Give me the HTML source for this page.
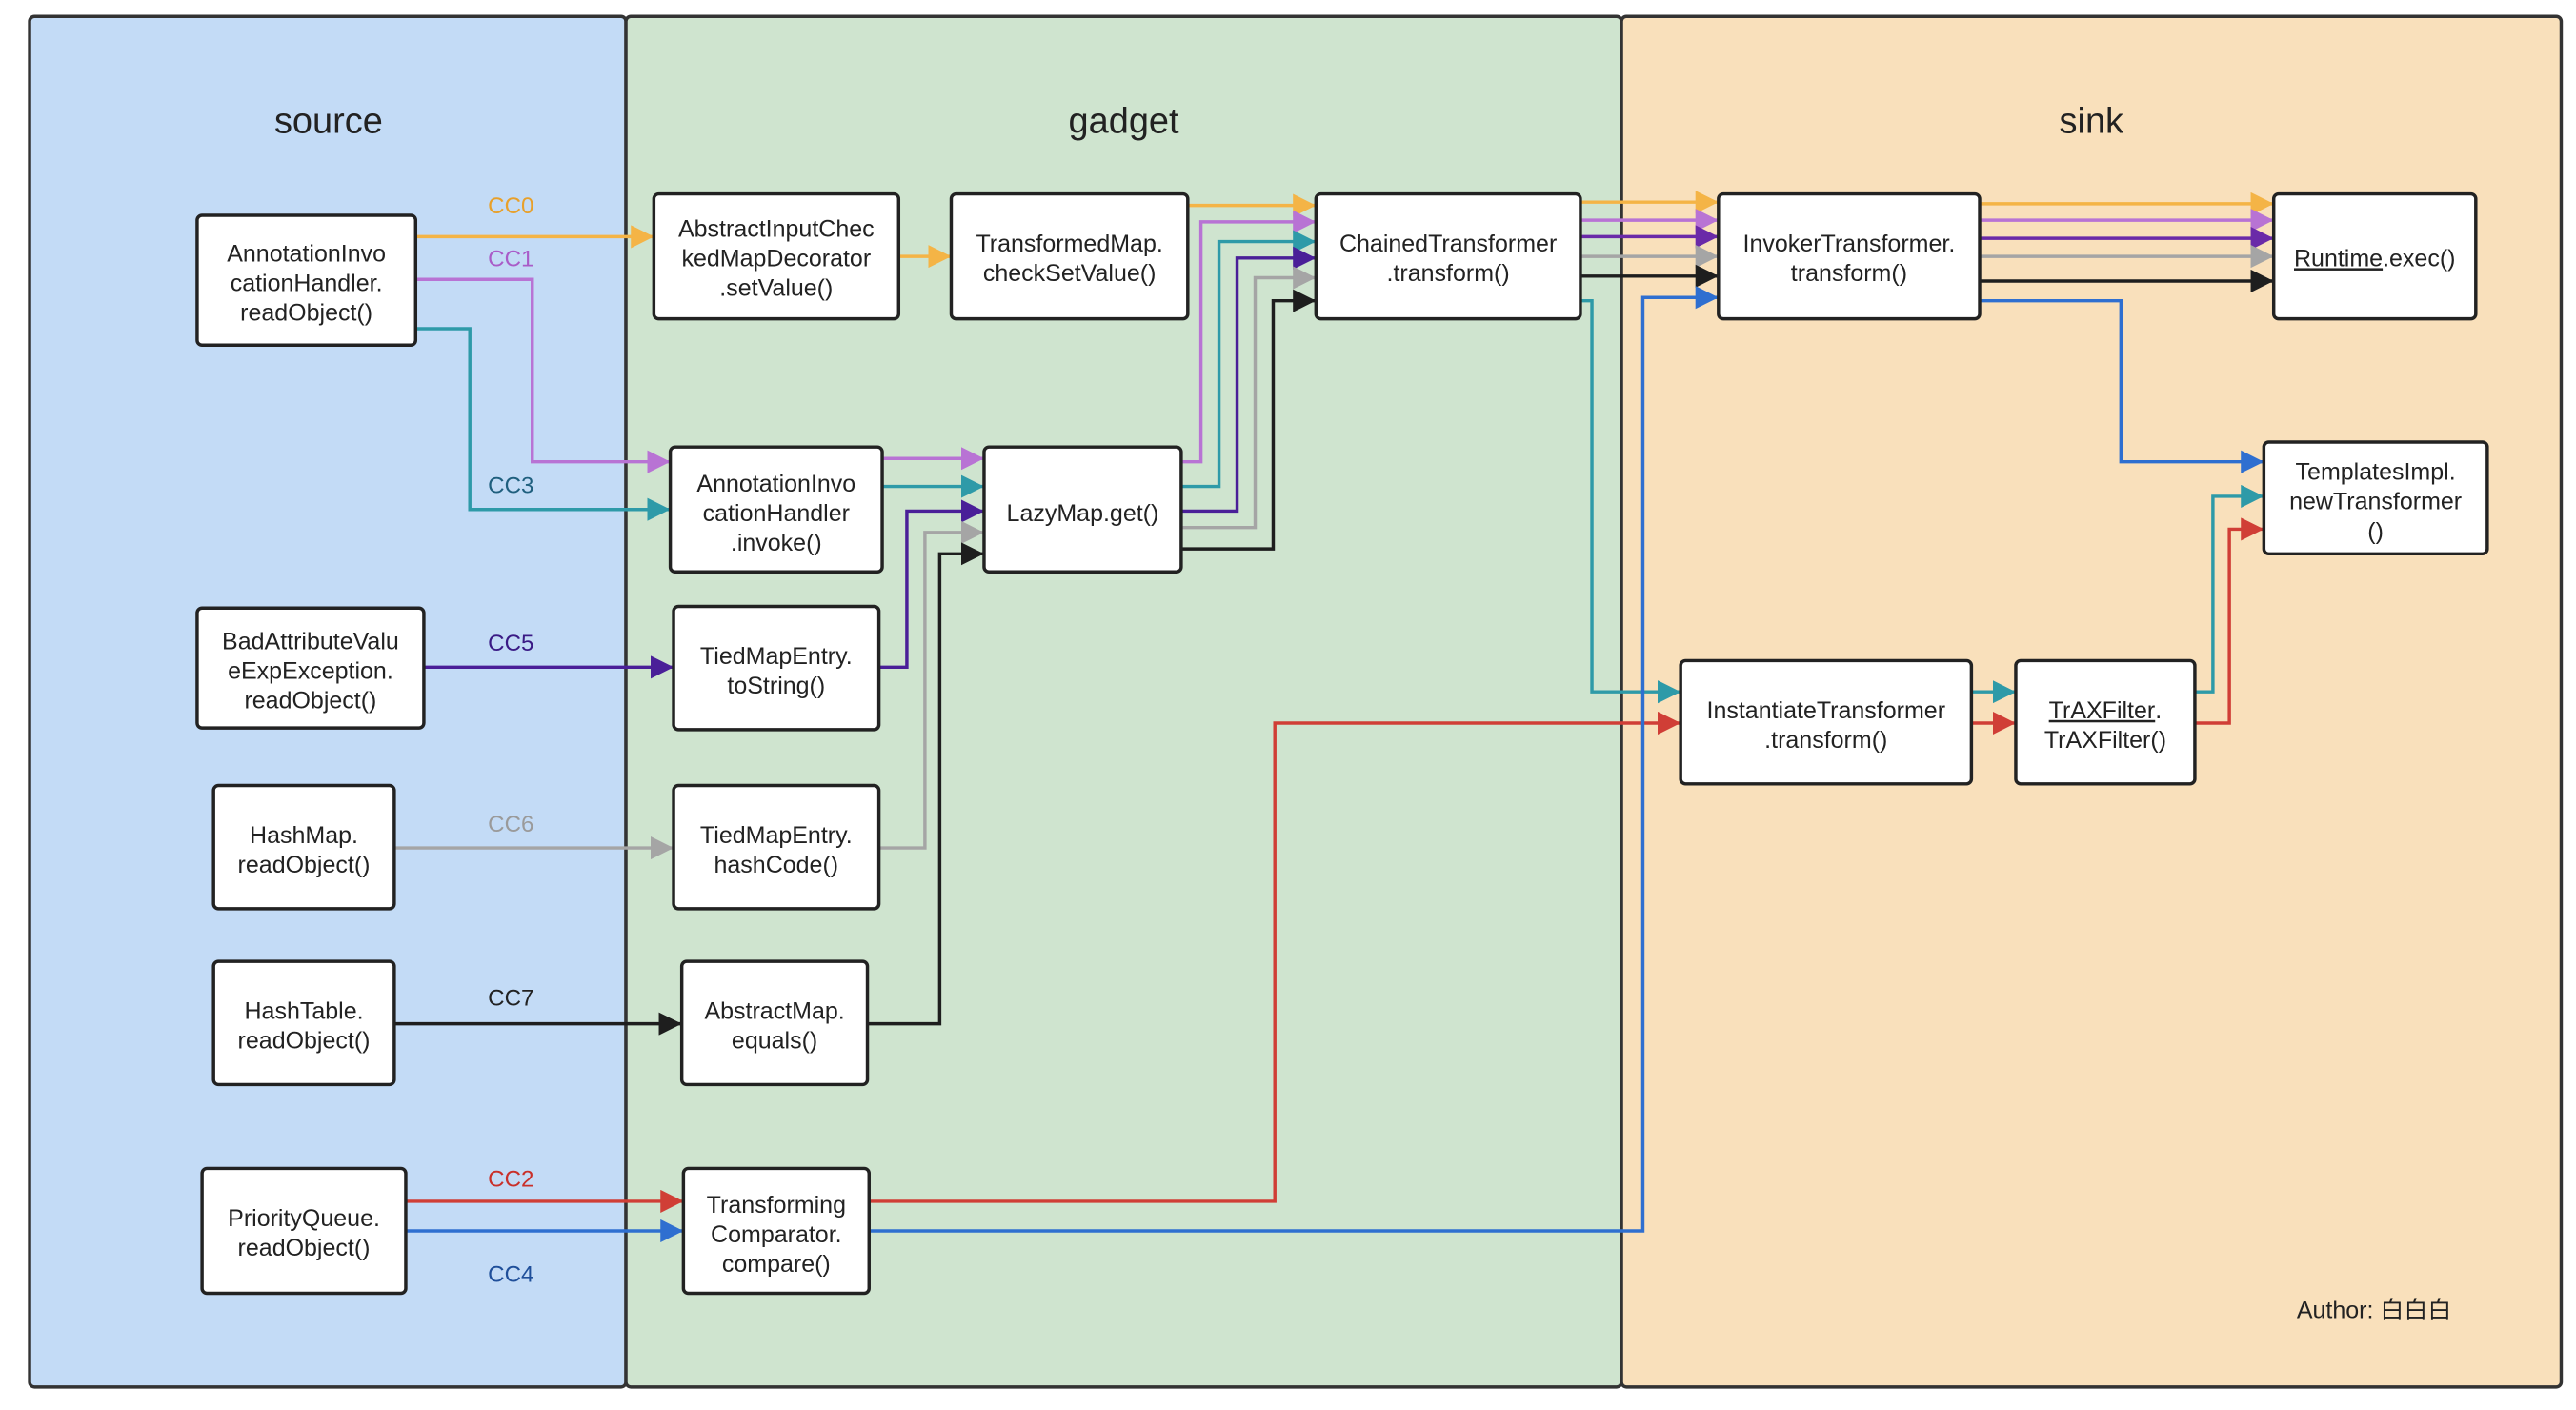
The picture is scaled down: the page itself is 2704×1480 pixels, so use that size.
<!DOCTYPE html>
<html><head><meta charset="utf-8"><style>
html,body{margin:0;padding:0;background:#fff;width:2704px;height:1480px;overflow:hidden}
svg{display:block}
text{font-family:"Liberation Sans","Noto Sans CJK SC",sans-serif}
.n{fill:#fff;stroke:#222;stroke-width:2}
.t{font-size:14.5px;fill:#222;text-anchor:middle}
.l{font-size:14px;text-anchor:middle}
path{fill:none;stroke-width:2}
</style></head><body>
<svg width="2704" height="1480" viewBox="0 0 1568 858" preserveAspectRatio="none" xmlns="http://www.w3.org/2000/svg">
<defs>
<marker id="mo" viewBox="0 0 10 10" refX="10" refY="5" markerWidth="7" markerHeight="7" markerUnits="strokeWidth" orient="auto"><path d="M0,0L10,5L0,10z" style="fill:#f4b446;stroke:none"/></marker>
<marker id="mp" viewBox="0 0 10 10" refX="10" refY="5" markerWidth="7" markerHeight="7" markerUnits="strokeWidth" orient="auto"><path d="M0,0L10,5L0,10z" style="fill:#b873d4;stroke:none"/></marker>
<marker id="mt" viewBox="0 0 10 10" refX="10" refY="5" markerWidth="7" markerHeight="7" markerUnits="strokeWidth" orient="auto"><path d="M0,0L10,5L0,10z" style="fill:#2e9aa8;stroke:none"/></marker>
<marker id="md" viewBox="0 0 10 10" refX="10" refY="5" markerWidth="7" markerHeight="7" markerUnits="strokeWidth" orient="auto"><path d="M0,0L10,5L0,10z" style="fill:#4a1f98;stroke:none"/></marker>
<marker id="mv" viewBox="0 0 10 10" refX="10" refY="5" markerWidth="7" markerHeight="7" markerUnits="strokeWidth" orient="auto"><path d="M0,0L10,5L0,10z" style="fill:#6a2aa8;stroke:none"/></marker>
<marker id="mg" viewBox="0 0 10 10" refX="10" refY="5" markerWidth="7" markerHeight="7" markerUnits="strokeWidth" orient="auto"><path d="M0,0L10,5L0,10z" style="fill:#a5a5a5;stroke:none"/></marker>
<marker id="mk" viewBox="0 0 10 10" refX="10" refY="5" markerWidth="7" markerHeight="7" markerUnits="strokeWidth" orient="auto"><path d="M0,0L10,5L0,10z" style="fill:#1e1e1e;stroke:none"/></marker>
<marker id="mr" viewBox="0 0 10 10" refX="10" refY="5" markerWidth="7" markerHeight="7" markerUnits="strokeWidth" orient="auto"><path d="M0,0L10,5L0,10z" style="fill:#d03e36;stroke:none"/></marker>
<marker id="mb" viewBox="0 0 10 10" refX="10" refY="5" markerWidth="7" markerHeight="7" markerUnits="strokeWidth" orient="auto"><path d="M0,0L10,5L0,10z" style="fill:#2f6fd0;stroke:none"/></marker>
</defs>
<rect x="18" y="10" width="363" height="834" rx="3" fill="#c3dbf6" stroke="#333" stroke-width="2"/>
<rect x="381" y="10" width="606" height="834" rx="3" fill="#cfe4cf" stroke="#333" stroke-width="2"/>
<rect x="987" y="10" width="572" height="834" rx="3" fill="#f9e0bb" stroke="#333" stroke-width="2"/>
<text x="200" y="81" font-size="22" text-anchor="middle" fill="#222">source</text>
<text x="684" y="81" font-size="22" text-anchor="middle" fill="#222">gadget</text>
<text x="1273" y="81" font-size="22" text-anchor="middle" fill="#222">sink</text>

<!-- edges -->
<g>
<path stroke="#f4b446" marker-end="url(#mo)" d="M253,144H398"/>
<path stroke="#f4b446" marker-end="url(#mo)" d="M547,156H579"/>
<path stroke="#f4b446" marker-end="url(#mo)" d="M723,125H801"/>
<path stroke="#f4b446" marker-end="url(#mo)" d="M962,123H1046"/>
<path stroke="#f4b446" marker-end="url(#mo)" d="M1205,124H1384"/>

<path stroke="#b873d4" marker-end="url(#mp)" d="M253,170H324V281H408"/>
<path stroke="#b873d4" marker-end="url(#mp)" d="M537,279H599"/>
<path stroke="#b873d4" marker-end="url(#mp)" d="M719,281H731V135H801"/>
<path stroke="#b873d4" marker-end="url(#mp)" d="M962,134H1046"/>
<path stroke="#b873d4" marker-end="url(#mp)" d="M1205,134H1384"/>

<path stroke="#2e9aa8" marker-end="url(#mt)" d="M253,200H286V310H408"/>
<path stroke="#2e9aa8" marker-end="url(#mt)" d="M537,296H599"/>
<path stroke="#2e9aa8" marker-end="url(#mt)" d="M719,296H742V147H801"/>
<path stroke="#2e9aa8" marker-end="url(#mt)" d="M962,183H969V421H1023"/>
<path stroke="#2e9aa8" marker-end="url(#mt)" d="M1200,421H1227"/>
<path stroke="#2e9aa8" marker-end="url(#mt)" d="M1336,421H1347V302H1378"/>

<path stroke="#4a1f98" marker-end="url(#md)" d="M258,406H410"/>
<path stroke="#4a1f98" marker-end="url(#md)" d="M535,406H552V311H599"/>
<path stroke="#4a1f98" marker-end="url(#md)" d="M719,311H753V157H801"/>
<path stroke="#6a2aa8" marker-end="url(#mv)" d="M962,144H1046"/>
<path stroke="#6a2aa8" marker-end="url(#mv)" d="M1205,145H1384"/>

<path stroke="#a5a5a5" marker-end="url(#mg)" d="M240,516H410"/>
<path stroke="#a5a5a5" marker-end="url(#mg)" d="M535,516H563V324H599"/>
<path stroke="#a5a5a5" marker-end="url(#mg)" d="M719,321H764V169H801"/>
<path stroke="#a5a5a5" marker-end="url(#mg)" d="M962,156H1046"/>
<path stroke="#a5a5a5" marker-end="url(#mg)" d="M1205,156H1384"/>

<path stroke="#1e1e1e" marker-end="url(#mk)" d="M240,623H415"/>
<path stroke="#1e1e1e" marker-end="url(#mk)" d="M528,623H572V337H599"/>
<path stroke="#1e1e1e" marker-end="url(#mk)" d="M719,334H775V183H801"/>
<path stroke="#1e1e1e" marker-end="url(#mk)" d="M962,168H1046"/>
<path stroke="#1e1e1e" marker-end="url(#mk)" d="M1205,171H1384"/>

<path stroke="#d03e36" marker-end="url(#mr)" d="M247,731H416"/>
<path stroke="#d03e36" marker-end="url(#mr)" d="M529,731H776V440H1023"/>
<path stroke="#d03e36" marker-end="url(#mr)" d="M1200,440H1227"/>
<path stroke="#d03e36" marker-end="url(#mr)" d="M1336,440H1357V322H1378"/>

<path stroke="#2f6fd0" marker-end="url(#mb)" d="M247,749H416"/>
<path stroke="#2f6fd0" marker-end="url(#mb)" d="M529,749H1000V181H1046"/>
<path stroke="#2f6fd0" marker-end="url(#mb)" d="M1205,183H1291V281H1378"/>
</g>

<!-- edge labels -->
<text class="l" x="311" y="130" fill="#e8a02a">CC0</text>
<text class="l" x="311" y="162" fill="#a95cc8">CC1</text>
<text class="l" x="311" y="300" fill="#1f5f7e">CC3</text>
<text class="l" x="311" y="396" fill="#3a1a85">CC5</text>
<text class="l" x="311" y="506" fill="#9a9a9a">CC6</text>
<text class="l" x="311" y="612" fill="#222">CC7</text>
<text class="l" x="311" y="722" fill="#c9302a">CC2</text>
<text class="l" x="311" y="780" fill="#1f4f9a">CC4</text>

<!-- nodes -->
<rect class="n" x="120" y="131" width="133" height="79" rx="3"/>
<text class="t" x="186.5" y="159">AnnotationInvo</text><text class="t" x="186.5" y="177">cationHandler.</text><text class="t" x="186.5" y="195">readObject()</text>

<rect class="n" x="398" y="118" width="149" height="76" rx="3"/>
<text class="t" x="472.5" y="144">AbstractInputChec</text><text class="t" x="472.5" y="162">kedMapDecorator</text><text class="t" x="472.5" y="180">.setValue()</text>

<rect class="n" x="579" y="118" width="144" height="76" rx="3"/>
<text class="t" x="651" y="153">TransformedMap.</text><text class="t" x="651" y="171">checkSetValue()</text>

<rect class="n" x="801" y="118" width="161" height="76" rx="3"/>
<text class="t" x="881.5" y="153">ChainedTransformer</text><text class="t" x="881.5" y="171">.transform()</text>

<rect class="n" x="1046" y="118" width="159" height="76" rx="3"/>
<text class="t" x="1125.5" y="153">InvokerTransformer.</text><text class="t" x="1125.5" y="171">transform()</text>

<rect class="n" x="1384" y="118" width="123" height="76" rx="3"/>
<text class="t" x="1445.5" y="162"><tspan text-decoration="underline">Runtime</tspan>.exec()</text>

<rect class="n" x="1378" y="269" width="136" height="68" rx="3"/>
<text class="t" x="1446" y="292">TemplatesImpl.</text><text class="t" x="1446" y="310">newTransformer</text><text class="t" x="1446" y="328">()</text>

<rect class="n" x="408" y="272" width="129" height="76" rx="3"/>
<text class="t" x="472.5" y="299">AnnotationInvo</text><text class="t" x="472.5" y="317">cationHandler</text><text class="t" x="472.5" y="335">.invoke()</text>

<rect class="n" x="599" y="272" width="120" height="76" rx="3"/>
<text class="t" x="659" y="317">LazyMap.get()</text>

<rect class="n" x="120" y="370" width="138" height="73" rx="3"/>
<text class="t" x="189" y="395">BadAttributeValu</text><text class="t" x="189" y="413">eExpException.</text><text class="t" x="189" y="431">readObject()</text>

<rect class="n" x="410" y="369" width="125" height="75" rx="3"/>
<text class="t" x="472.5" y="404">TiedMapEntry.</text><text class="t" x="472.5" y="422">toString()</text>

<rect class="n" x="130" y="478" width="110" height="75" rx="3"/>
<text class="t" x="185" y="513">HashMap.</text><text class="t" x="185" y="531">readObject()</text>

<rect class="n" x="410" y="478" width="125" height="75" rx="3"/>
<text class="t" x="472.5" y="513">TiedMapEntry.</text><text class="t" x="472.5" y="531">hashCode()</text>

<rect class="n" x="130" y="585" width="110" height="75" rx="3"/>
<text class="t" x="185" y="620">HashTable.</text><text class="t" x="185" y="638">readObject()</text>

<rect class="n" x="415" y="585" width="113" height="75" rx="3"/>
<text class="t" x="471.5" y="620">AbstractMap.</text><text class="t" x="471.5" y="638">equals()</text>

<rect class="n" x="123" y="711" width="124" height="76" rx="3"/>
<text class="t" x="185" y="746">PriorityQueue.</text><text class="t" x="185" y="764">readObject()</text>

<rect class="n" x="416" y="711" width="113" height="76" rx="3"/>
<text class="t" x="472.5" y="738">Transforming</text><text class="t" x="472.5" y="756">Comparator.</text><text class="t" x="472.5" y="774">compare()</text>

<rect class="n" x="1023" y="402" width="177" height="75" rx="3"/>
<text class="t" x="1111.5" y="437">InstantiateTransformer</text><text class="t" x="1111.5" y="455">.transform()</text>

<rect class="n" x="1227" y="402" width="109" height="75" rx="3"/>
<text class="t" x="1281.5" y="437"><tspan text-decoration="underline">TrAXFilter</tspan>.</text><text class="t" x="1281.5" y="455">TrAXFilter()</text>

<text x="1398" y="802" font-size="14.5" fill="#222">Author: 白白白</text>
</svg>
</body></html>
